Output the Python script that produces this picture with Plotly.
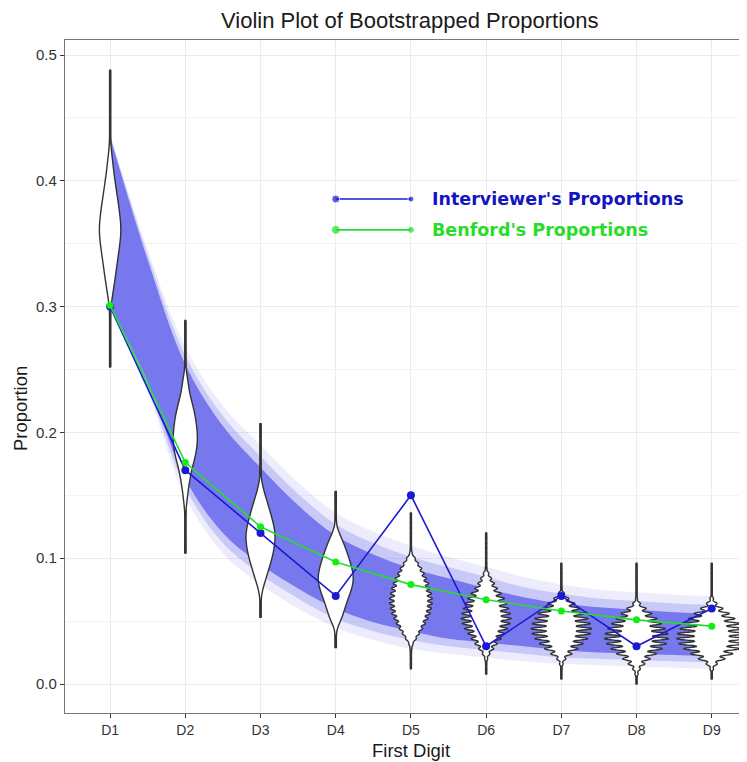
import numpy as np
import plotly.graph_objects as go

# ---------------- data ----------------
digits = ["D1", "D2", "D3", "D4", "D5", "D6", "D7", "D8", "D9"]
digit_pos = [1, 2, 3, 4, 5, 6, 7, 8, 9]
interviewer = [0.30, 0.17, 0.12, 0.07, 0.15, 0.03, 0.07, 0.03, 0.06]
benford = [0.301, 0.176, 0.125, 0.097, 0.079, 0.067, 0.058, 0.051, 0.046]

# bootstrapped band
band_x = [1.0, 1.5, 2.0, 2.5, 3.0, 3.5, 4.0, 4.5, 5.0, 5.5, 6.0, 6.5, 7.0, 7.5, 8.0, 8.5, 9.0]
band_core_hi = [0.435, 0.337, 0.254, 0.205, 0.172, 0.142, 0.118, 0.103, 0.092, 0.084, 0.076, 0.069, 0.064, 0.061, 0.059, 0.057, 0.056]
band_core_lo = [0.300, 0.240, 0.163, 0.120, 0.095, 0.076, 0.060, 0.049, 0.042, 0.036, 0.033, 0.030, 0.027, 0.025, 0.024, 0.023, 0.022]
band_mid_hi = [0.436, 0.341, 0.261, 0.213, 0.181, 0.151, 0.127, 0.112, 0.101, 0.093, 0.085, 0.077, 0.072, 0.068, 0.066, 0.064, 0.063]
band_mid_lo = [0.300, 0.236, 0.156, 0.112, 0.087, 0.068, 0.052, 0.042, 0.035, 0.030, 0.027, 0.024, 0.021, 0.020, 0.019, 0.018, 0.017]
band_outer_hi = [0.437, 0.345, 0.268, 0.221, 0.190, 0.160, 0.136, 0.121, 0.110, 0.101, 0.093, 0.085, 0.079, 0.075, 0.073, 0.071, 0.070]
band_outer_lo = [0.300, 0.232, 0.149, 0.104, 0.079, 0.060, 0.045, 0.035, 0.028, 0.024, 0.021, 0.018, 0.016, 0.015, 0.014, 0.013, 0.012]

# bootstrapped proportion distributions per digit (value, count)
d1_vals = [0.252, 0.255, 0.260, 0.265, 0.270, 0.275, 0.280, 0.285, 0.290, 0.295, 0.300, 0.305, 0.310, 0.315, 0.320,
           0.325, 0.330, 0.335, 0.340, 0.345, 0.350, 0.355, 0.360, 0.365, 0.370, 0.375, 0.380, 0.385, 0.390, 0.395,
           0.400, 0.405, 0.410, 0.415, 0.420, 0.425, 0.430, 0.435, 0.440, 0.445, 0.450, 0.455, 0.460, 0.465, 0.470,
           0.475, 0.480, 0.485, 0.488]
d1_counts = [4, 4, 4, 4, 4, 4, 4, 4, 4, 5, 7, 16, 24, 33, 42,
             50, 58, 66, 74, 82, 90, 96, 100, 98, 93, 86, 79, 70, 62, 53,
             45, 37, 30, 24, 17, 11, 6, 4, 4, 4, 4, 4, 4, 4, 4,
             4, 4, 4, 4]

d2_vals = [0.104, 0.105, 0.110, 0.115, 0.120, 0.125, 0.130, 0.135, 0.140, 0.145, 0.150, 0.155, 0.160, 0.165, 0.170,
           0.175, 0.180, 0.185, 0.190, 0.195, 0.200, 0.205, 0.210, 0.215, 0.220, 0.225, 0.230, 0.235, 0.240, 0.245,
           0.250, 0.255, 0.260, 0.265, 0.270, 0.275, 0.280, 0.285, 0.289]
d2_counts = [4, 4, 4, 4, 4, 4, 4, 4, 7, 13, 19, 25, 33, 42, 52,
             65, 80, 90, 97, 100, 98, 93, 86, 77, 65, 52, 38, 30, 22, 15,
             5, 4, 4, 4, 4, 4, 4, 4, 4]

d3_vals = [0.053, 0.055, 0.060, 0.065, 0.070, 0.075, 0.080, 0.085, 0.090, 0.095, 0.100, 0.105, 0.110, 0.115, 0.120,
           0.125, 0.130, 0.135, 0.140, 0.145, 0.150, 0.155, 0.160, 0.165, 0.170, 0.175, 0.180, 0.185, 0.190, 0.195,
           0.200, 0.205, 0.207]
d3_counts = [3, 3, 3, 3, 6, 14, 27, 40, 53, 66, 78, 88, 95, 100, 99,
             92, 82, 70, 58, 45, 32, 20, 10, 3, 3, 3, 3, 3, 3, 3,
             3, 3, 3]

d4_vals = [0.029, 0.030, 0.035, 0.040, 0.045, 0.050, 0.055, 0.060, 0.065, 0.070, 0.075, 0.080, 0.085, 0.090, 0.095,
           0.100, 0.105, 0.110, 0.115, 0.120, 0.125, 0.130, 0.135, 0.140, 0.145, 0.150, 0.153]
d4_counts = [3, 3, 3, 3, 8, 28, 40, 51, 62, 75, 88, 97, 100, 94, 85,
             74, 62, 50, 35, 20, 5, 3, 3, 3, 3, 3, 3]

d5_vals = [0.012, 0.016, 0.020, 0.024, 0.028, 0.032, 0.036, 0.040, 0.044, 0.048, 0.052, 0.056, 0.060, 0.064, 0.068,
           0.072, 0.076, 0.080, 0.084, 0.088, 0.092, 0.096, 0.100, 0.104, 0.108, 0.112, 0.116, 0.120, 0.124, 0.128,
           0.132, 0.136]
d5_counts = [2, 2, 2, 2, 4, 10, 25, 40, 55, 68, 80, 90, 96, 100, 100,
             96, 90, 83, 73, 62, 50, 35, 20, 6, 2, 2, 2, 2, 2, 2,
             2, 2]

d6_vals = [0.008, 0.012, 0.016, 0.020, 0.024, 0.028, 0.032, 0.036, 0.040, 0.044, 0.048, 0.052, 0.056, 0.060, 0.064,
           0.068, 0.072, 0.076, 0.080, 0.084, 0.088, 0.092, 0.096, 0.100, 0.104, 0.108, 0.112, 0.116, 0.120]
d6_counts = [2, 2, 2, 6, 15, 30, 45, 60, 73, 86, 96, 100, 97, 91, 83,
             73, 60, 45, 33, 22, 11, 3, 2, 2, 2, 2, 2, 2, 2]

d7_vals = [0.004, 0.008, 0.012, 0.016, 0.020, 0.024, 0.028, 0.032, 0.036, 0.040, 0.044, 0.048, 0.052, 0.056, 0.060,
           0.064, 0.068, 0.072, 0.076, 0.080, 0.084, 0.088, 0.092, 0.096]
d7_counts = [1, 1, 2, 6, 15, 35, 55, 72, 87, 97, 100, 96, 88, 77, 62,
             45, 25, 10, 2, 1, 1, 1, 1, 1]

d8_vals = [0.000, 0.004, 0.008, 0.012, 0.016, 0.020, 0.024, 0.028, 0.032, 0.036, 0.040, 0.044, 0.048, 0.052, 0.056,
           0.060, 0.064, 0.068, 0.072, 0.076, 0.080, 0.084, 0.088, 0.092, 0.096]
d8_counts = [1, 1, 5, 12, 26, 43, 62, 80, 93, 100, 98, 90, 78, 64, 48,
             30, 12, 3, 1, 1, 1, 1, 1, 1, 1]

d9_vals = [0.004, 0.008, 0.012, 0.016, 0.020, 0.024, 0.028, 0.032, 0.036, 0.040, 0.044, 0.048, 0.052, 0.056, 0.060,
           0.064, 0.068, 0.072, 0.076, 0.080, 0.084, 0.088, 0.092, 0.096]
d9_counts = [1, 1, 5, 16, 38, 60, 80, 94, 100, 98, 91, 80, 66, 50, 32,
             15, 5, 1, 1, 1, 1, 1, 1, 1]

violin_vals = [d1_vals, d2_vals, d3_vals, d4_vals, d5_vals, d6_vals, d7_vals, d8_vals, d9_vals]
violin_counts = [d1_counts, d2_counts, d3_counts, d4_counts, d5_counts, d6_counts, d7_counts, d8_counts, d9_counts]

# ---------------- style ----------------
violin_widths = [0.285, 0.32, 0.386, 0.465, 0.567, 0.665, 0.80, 0.85, 0.93]
violin_bw = [0.004, 0.004, 0.004, 0.004, 0.0015, 0.0013, 0.0012, 0.0012, 0.0012]

XR = [0.4, 9.469]
YR = [-0.02305, 0.51192]
BLUE = "#1A1AD2"
GREEN = "#22DD33"
BAND = "120,120,238"
INK = "#333333"

fig = go.Figure()

# band (base subplot, drawn under the violins)
band_layers = [(band_outer_lo, band_outer_hi, "rgba(%s,0.14)" % BAND),
               (band_mid_lo, band_mid_hi, "rgba(%s,0.30)" % BAND),
               (band_core_lo, band_core_hi, "rgb(%s)" % BAND)]
for lo, hi, col in band_layers:
    fig.add_trace(go.Scatter(x=band_x, y=lo, mode="lines",
                             line=dict(width=0, shape="spline"), hoverinfo="skip", showlegend=False))
    fig.add_trace(go.Scatter(x=band_x, y=hi, mode="lines", fill="tonexty", fillcolor=col,
                             line=dict(width=0, shape="spline"), hoverinfo="skip", showlegend=False))

# min-max range of every bootstrap distribution (the violin tails), under the violins
for i in range(9):
    vals = violin_vals[i]
    fig.add_trace(go.Scatter(x=[digit_pos[i], digit_pos[i]], y=[min(vals), max(vals)], mode="lines",
                             line=dict(color=INK, width=2.4), hoverinfo="skip", showlegend=False))

# violins (overlay subplot)
for i in range(9):
    vals = violin_vals[i]
    cnts = violin_counts[i]
    if len(vals) != len(cnts):
        raise ValueError("length mismatch for " + digits[i])
    samples = np.repeat(np.array(vals), np.array(cnts))
    fig.add_trace(go.Violin(
        x0=digit_pos[i], y=samples, xaxis="x2", yaxis="y2",
        width=violin_widths[i], bandwidth=violin_bw[i],
        spanmode="hard", scalemode="width", side="both",
        points=False, box_visible=False, meanline_visible=False,
        fillcolor="white", line=dict(color=INK, width=1.4),
        hoverinfo="skip", showlegend=False, name=digits[i]))

# observed and Benford proportions
fig.add_trace(go.Scatter(x=digit_pos, y=interviewer, mode="lines+markers", xaxis="x2", yaxis="y2",
                         line=dict(color=BLUE, width=1.6), marker=dict(color=BLUE, size=8),
                         hoverinfo="skip", showlegend=False))
fig.add_trace(go.Scatter(x=digit_pos, y=benford, mode="lines+markers", xaxis="x2", yaxis="y2",
                         line=dict(color=GREEN, width=1.6), marker=dict(color="#11EE11", size=7),
                         hoverinfo="skip", showlegend=False))

# hand-made legend
leg_x = [4, 5]
leg_blue_y = [0.3855, 0.3855]
leg_green_y = [0.361, 0.361]
fig.add_trace(go.Scatter(x=leg_x, y=leg_blue_y, mode="lines+markers", xaxis="x2", yaxis="y2",
                         line=dict(color=BLUE, width=1.6), marker=dict(color=BLUE, size=[8, 6]),
                         hoverinfo="skip", showlegend=False))
fig.add_trace(go.Scatter(x=leg_x, y=leg_green_y, mode="lines+markers", xaxis="x2", yaxis="y2",
                         line=dict(color=GREEN, width=1.6), marker=dict(color="#11EE11", size=[7, 5]),
                         hoverinfo="skip", showlegend=False))

fig.add_annotation(x=5.26, y=0.3855, xref="x", yref="y", text="<b>Interviewer's Proportions</b>",
                   showarrow=False, xanchor="left", yanchor="middle",
                   font=dict(family="DejaVu Sans", size=17.5, color="#1414C0"))
fig.add_annotation(x=5.26, y=0.361, xref="x", yref="y", text="<b>Benford's Proportions</b>",
                   showarrow=False, xanchor="left", yanchor="middle",
                   font=dict(family="DejaVu Sans", size=17.5, color="#2ADB2A"))

# titles
fig.add_annotation(x=0.506, y=1 + 20.0 / 673, xref="paper", yref="paper",
                   text="Violin Plot of Bootstrapped Proportions",
                   showarrow=False, xanchor="center", yanchor="middle",
                   font=dict(family="Liberation Sans", size=22, color="#1a1a1a"))
fig.add_annotation(x=0.507, y=-0.055, xref="paper", yref="paper", text="First Digit",
                   showarrow=False, xanchor="center", yanchor="middle",
                   font=dict(family="Liberation Sans", size=18.5, color="#1a1a1a"))
fig.add_annotation(x=-0.066, y=0.453, xref="paper", yref="paper", text="Proportion", textangle=-90,
                   showarrow=False, xanchor="center", yanchor="middle",
                   font=dict(family="Liberation Sans", size=18.5, color="#1a1a1a"))

ytick_vals = [0.0, 0.1, 0.2, 0.3, 0.4, 0.5]
ytick_text = ["0.0", "0.1", "0.2", "0.3", "0.4", "0.5"]
yminor_vals = [0.05, 0.15, 0.25, 0.35, 0.45]

# the page body adds an 8px margin, so the figure is 8px smaller than the window
fig.update_layout(
    width=739, height=754,
    margin=dict(l=57, r=0, t=32, b=49),
    plot_bgcolor="white", paper_bgcolor="white",
    showlegend=False, violinmode="overlay", hovermode=False,
    xaxis=dict(range=XR, tickmode="array", tickvals=digit_pos, ticktext=digits,
               showgrid=True, gridcolor="#EBEBEB", gridwidth=1, zeroline=False,
               showline=True, linecolor="#777777", linewidth=1.2, mirror=True,
               ticks="outside", ticklen=4, tickcolor=INK,
               tickfont=dict(family="Liberation Sans", size=14, color=INK)),
    yaxis=dict(range=YR, tickmode="array", tickvals=ytick_vals, ticktext=ytick_text,
               showgrid=True, gridcolor="#EBEBEB", gridwidth=1, zeroline=False,
               minor=dict(tickmode="array", tickvals=yminor_vals, showgrid=True, gridcolor="#F3F3F3", gridwidth=1),
               showline=True, linecolor="#777777", linewidth=1.2,
               ticks="outside", ticklen=4, tickcolor=INK,
               tickfont=dict(family="Liberation Sans", size=15, color=INK)),
    xaxis2=dict(range=XR, overlaying="x", anchor="y2", visible=False),
    yaxis2=dict(range=YR, overlaying="y", anchor="x2", visible=False),
)

fig.write_html("out.html")
